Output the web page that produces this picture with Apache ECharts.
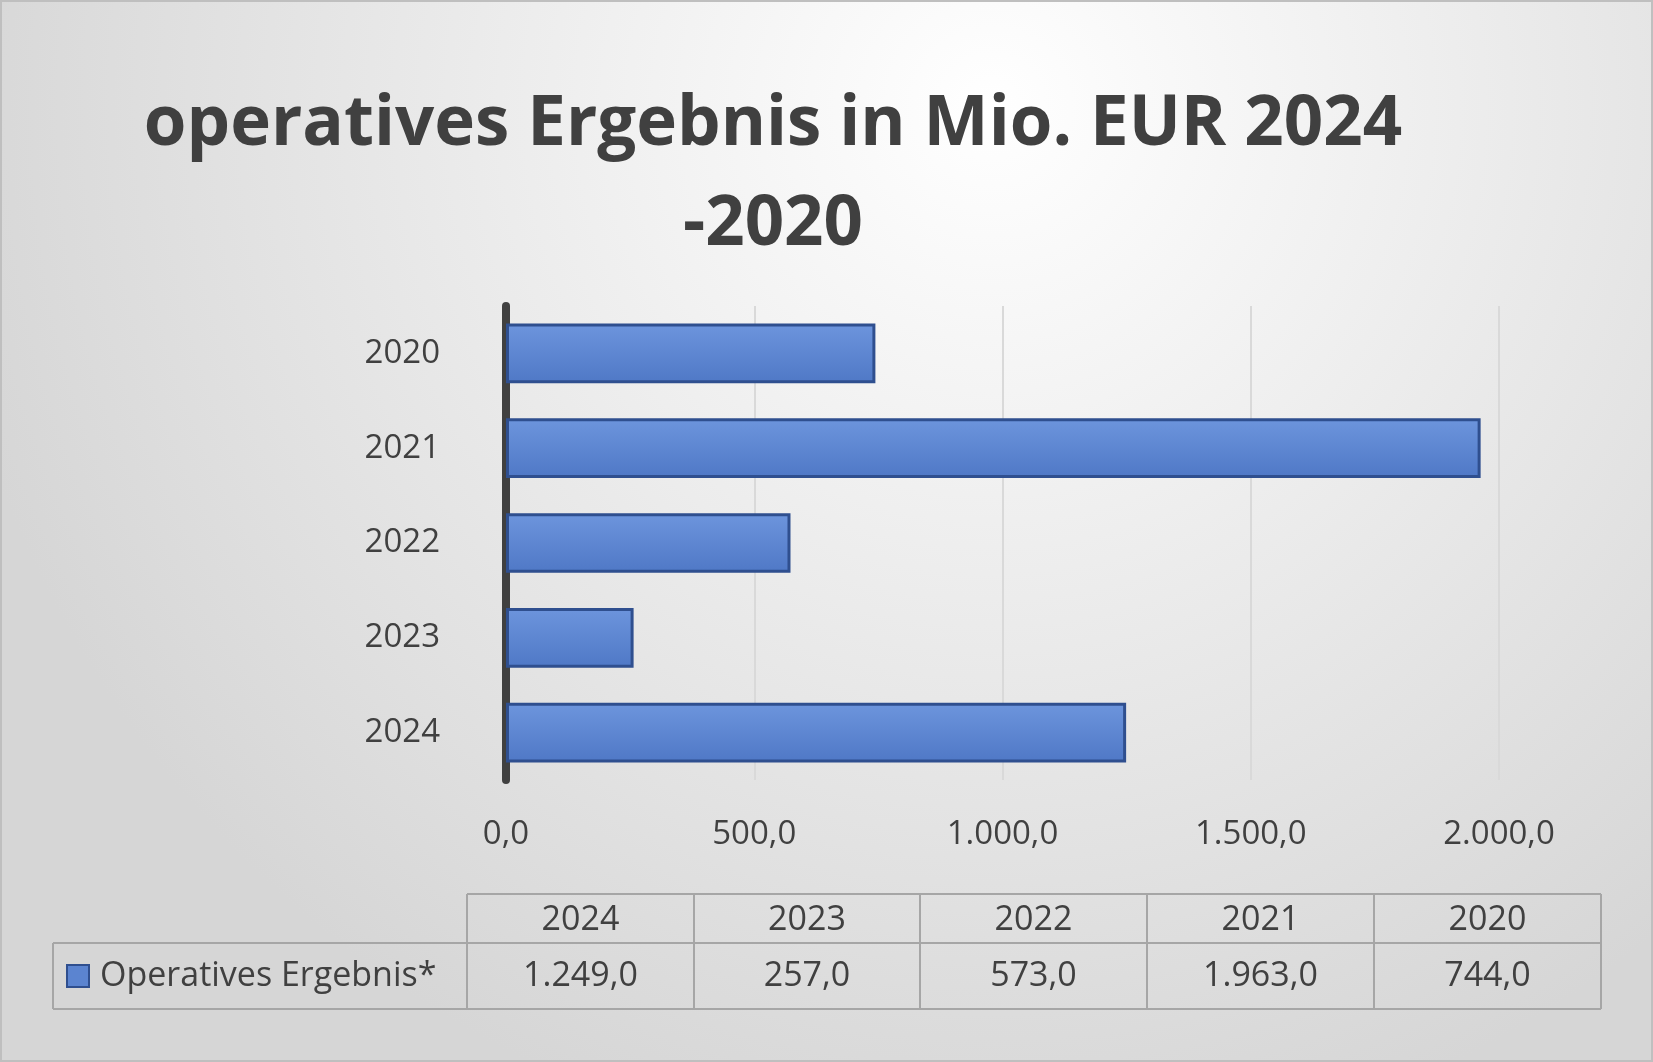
<!DOCTYPE html>
<html>
<head>
<meta charset="utf-8">
<script src="https://cdn.jsdelivr.net/npm/echarts@6/dist/echarts.min.js"></script>
<style>
  html, body { margin: 0; padding: 0; }
  #main { width: 1653px; height: 1062px; }
</style>
</head>
<body>
<div id="main"></div>
<script>
// data
var years = ['2020', '2021', '2022', '2023', '2024'];
var values = [744.0, 1963.0, 573.0, 257.0, 1249.0];
var tableYears = ['2024', '2023', '2022', '2021', '2020'];
var tableValues = [1249.0, 257.0, 573.0, 1963.0, 744.0];
var seriesName = 'Operatives Ergebnis*';

function deFormat(v){
  var parts = v.toFixed(1).split('.');
  return parts[0].replace(/\B(?=(\d{3})+(?!\d))/g, '.') + ',' + parts[1];
}

// data table drawn under the chart
function tableGraphics(){
  var cols = [467, 694, 920, 1147, 1374, 1601];
  var rowTop = 894, rowMid = 943, rowBot = 1009, legLeft = 53;
  var line = { stroke: '#a6a6a6', lineWidth: 2 };
  var g = [];
  function ln(x1, y1, x2, y2){
    g.push({ type: 'line', shape: { x1: x1, y1: y1, x2: x2, y2: y2 }, style: line, silent: true });
  }
  ln(cols[0], rowTop, cols[5], rowTop);
  ln(legLeft, rowMid, cols[5], rowMid);
  ln(legLeft, rowBot, cols[5], rowBot);
  ln(legLeft, rowMid, legLeft, rowBot);
  for (var i = 0; i < cols.length; i++) ln(cols[i], rowTop, cols[i], rowBot);
  for (var j = 0; j < tableYears.length; j++){
    var cx = (cols[j] + cols[j + 1]) / 2;
    g.push({ type: 'text', x: cx, y: (rowTop + rowMid) / 2 + 2,
      style: { text: tableYears[j], fill: '#404040', font: '34px "Open Sans", sans-serif', align: 'center', verticalAlign: 'middle' } });
    g.push({ type: 'text', x: cx, y: (rowMid + rowBot) / 2,
      style: { text: deFormat(tableValues[j]), fill: '#404040', font: '34px "Open Sans", sans-serif', align: 'center', verticalAlign: 'middle' } });
  }
  g.push({ type: 'rect', shape: { x: 67, y: 965, width: 22, height: 22 },
    style: { fill: '#5b84d0', stroke: '#2f4f8f', lineWidth: 2 } });
  g.push({ type: 'text', x: 100, y: (rowMid + rowBot) / 2,
    style: { text: seriesName, fill: '#404040', font: '34px "Open Sans", sans-serif', verticalAlign: 'middle' } });
  return g;
}

var chart = echarts.init(document.getElementById('main'));
var option = {
  backgroundColor: new echarts.graphic.RadialGradient(0.6, 0.1, 1, [
    { offset: 0, color: '#ffffff' }, { offset: 1, color: '#d6d6d6' }
  ]),
  title: {
    text: 'operatives Ergebnis in Mio. EUR 2024\n-2020',
    left: 768, top: 70, textAlign: 'center',
    textStyle: { fontSize: 69, fontWeight: 'bold', color: '#404040', lineHeight: 100, fontFamily: '"Open Sans", sans-serif' }
  },
  grid: { left: 506, right: 154, top: 306, bottom: 282 },
  xAxis: {
    type: 'value', min: 0, max: 2000, interval: 500,
    axisLabel: { formatter: deFormat, fontSize: 33, color: '#404040', margin: 38, fontFamily: '"Open Sans", sans-serif' },
    splitLine: { lineStyle: { color: '#d9d9d9', width: 2 } },
    axisLine: { show: false }, axisTick: { show: false }
  },
  yAxis: {
    type: 'category', data: years, inverse: true, offset: 26,
    axisLine: { lineStyle: { color: '#404040', width: 8 } },
    axisTick: { show: false },
    axisLabel: { fontSize: 33, color: '#404040', margin: 40, fontFamily: '"Open Sans", sans-serif' }
  },
  series: [{
    name: seriesName, type: 'bar', data: values, barWidth: '63%',
    itemStyle: {
      color: new echarts.graphic.LinearGradient(0, 0, 0, 1, [
        { offset: 0, color: '#6d95dd' }, { offset: 1, color: '#4f78c6' }
      ]),
      borderColor: '#2f4f8f', borderWidth: 3
    }
  }],
  graphic: [{
    type: 'rect', shape: { x: 1, y: 1, width: 1651, height: 1060 },
    style: { fill: 'none', stroke: '#bfbfbf', lineWidth: 2 }, silent: true
  }].concat(tableGraphics())
};
chart.setOption(option);
</script>
</body>
</html>
